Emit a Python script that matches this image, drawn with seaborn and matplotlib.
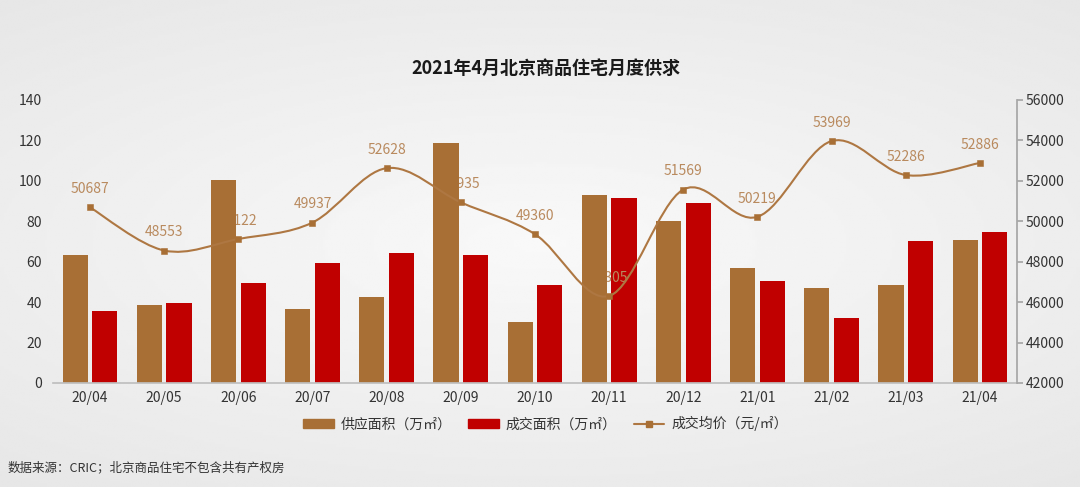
import numpy as np
import pandas as pd
import matplotlib
matplotlib.use('Agg')
import matplotlib.pyplot as plt
import matplotlib.transforms as mtransforms
from matplotlib.path import Path
from matplotlib.patches import PathPatch, Patch
from matplotlib.lines import Line2D
from matplotlib.colors import to_hex
import seaborn as sns

sns.set_theme(style="white")
plt.rcParams['font.family'] = ['Noto Sans CJK SC', 'DejaVu Sans']

months = ['20/04', '20/05', '20/06', '20/07', '20/08', '20/09', '20/10',
          '20/11', '20/12', '21/01', '21/02', '21/03', '21/04']
supply = [63.5, 38.7, 100.5, 36.6, 42.6, 118.8, 30.2, 92.8, 80.1, 56.9, 47.0, 48.5, 70.6]
deal = [35.7, 39.6, 49.4, 59.4, 64.4, 63.2, 48.4, 91.4, 88.9, 50.6, 32.3, 70.1, 74.6]
price = [50687, 48553, 49122, 49937, 52628, 50935, 49360, 46305, 51569, 50219, 53969, 52286, 52886]

SUPPLY_C = '#A86F35'
DEAL_C = '#C00000'
LINE_C = '#AE7742'
LABEL_C = '#B98A5E'
TEXT_C = '#333333'

df = pd.DataFrame({
    'month': months * 2,
    'value': supply + deal,
    'kind': ['供应面积（万㎡）'] * len(months) + ['成交面积（万㎡）'] * len(months),
})

fig = plt.figure(figsize=(10.8, 4.87), dpi=100)

# soft grey background, a little lighter in the middle
bg = fig.add_axes([0, 0, 1, 1], zorder=-10)
yy, xx = np.mgrid[-1:1:200j, -1:1:400j]
r = np.sqrt((xx * 0.9) ** 2 + (yy * 1.1) ** 2)
bg.imshow(0.975 - np.clip(r, 0, 1.4) * 0.05, cmap='gray', vmin=0, vmax=1,
          aspect='auto', extent=[0, 1, 0, 1])
bg.axis('off')

ax = fig.add_axes([0.049, 0.2136, 0.8927, 0.5811])
ax.set_facecolor('none')
sns.barplot(data=df, x='month', y='value', hue='kind', order=months,
            palette=[SUPPLY_C, DEAL_C], width=0.8, gap=0.15,
            saturation=1, ax=ax, legend=False, linewidth=0, edgecolor='none')
# labels sit behind the supply bars but above the deal bars (as in the source)
for bar in ax.patches:
    bar.set_zorder(2 if to_hex(bar.get_facecolor()).lower() == SUPPLY_C.lower() else 1)
ax.set_xlim(-0.5, 12.5)
ax.set_ylim(0, 140)
ax.set_yticks(range(0, 141, 20))
ax.set_xlabel('')
ax.set_ylabel('')
for s in ['top', 'right', 'left']:
    ax.spines[s].set_visible(False)
ax.spines['bottom'].set_color('#bfbfbf')
ax.tick_params(axis='y', length=0, labelsize=10, labelcolor=TEXT_C, pad=8)
ax.tick_params(axis='x', length=0, labelsize=10, labelcolor=TEXT_C, pad=6)

ax2 = ax.twinx()
ax2.set_ylim(42000, 56000)
ax2.set_yticks(range(42000, 56001, 2000))
for s in ['top', 'left', 'bottom']:
    ax2.spines[s].set_visible(False)
ax2.spines['right'].set_color('#a6a6a6')
ax2.tick_params(axis='y', length=4, color='#a6a6a6', labelsize=10,
                labelcolor=TEXT_C, pad=2)

# smooth price curve (cubic bezier through the points)
x = np.arange(len(price), dtype=float)
p = np.array(price, dtype=float)
verts = [(x[0], p[0])]
codes = [Path.MOVETO]
n = len(p)
for i in range(n - 1):
    i0 = max(i - 1, 0)
    i3 = min(i + 2, n - 1)
    c1 = (x[i] + (x[i + 1] - x[i0]) / 6, p[i] + (p[i + 1] - p[i0]) / 6)
    c2 = (x[i + 1] - (x[i3] - x[i]) / 6, p[i + 1] - (p[i3] - p[i]) / 6)
    verts += [c1, c2, (x[i + 1], p[i + 1])]
    codes += [Path.CURVE4] * 3
ax2.add_patch(PathPatch(Path(verts, codes), fill=False, edgecolor=LINE_C,
                        lw=1.5, zorder=3))
sns.scatterplot(x=x, y=p, marker='s', s=24, color=SUPPLY_C, edgecolor=SUPPLY_C,
                ax=ax2, zorder=4, legend=False)

offset = mtransforms.ScaledTranslation(0, 8 / 72, fig.dpi_scale_trans)
for xi, v in zip(x, price):
    ax.text(xi, v, str(v), transform=ax2.transData + offset, ha='center',
            va='bottom', fontsize=10, color=LABEL_C, zorder=1.5)

fig.text(0.505, 0.86, '2021年4月北京商品住宅月度供求', ha='center', va='center',
         fontsize=13, fontweight='bold', color='#1a1a1a')

handles = [Patch(color=SUPPLY_C, label='供应面积（万㎡）'),
           Patch(color=DEAL_C, label='成交面积（万㎡）'),
           Line2D([0], [0], color=LINE_C, lw=1.5, marker='s', markersize=5,
                  markerfacecolor=SUPPLY_C, markeredgecolor=SUPPLY_C,
                  label='成交均价（元/㎡）')]
fig.legend(handles=handles, loc='center', bbox_to_anchor=(0.505, 0.13), ncol=3,
           frameon=False, fontsize=10, handlelength=2.2, handleheight=0.6,
           columnspacing=1.2, handletextpad=0.5, labelcolor=TEXT_C)

fig.text(0.007, 0.04, '数据来源：CRIC；北京商品住宅不包含共有产权房', ha='left',
         va='center', fontsize=9, color=TEXT_C)

fig.savefig('out.png', dpi=100)
